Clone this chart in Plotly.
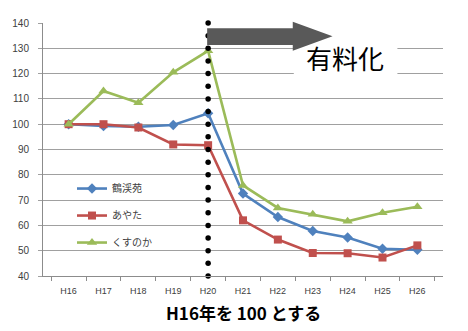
import numpy as np
import plotly.graph_objects as go

# 年度 (H16 = 100 とした指数)
years = ["H16", "H17", "H18", "H19", "H20", "H21", "H22", "H23", "H24", "H25", "H26"]
kakeien = [100, 99.3, 99.0, 99.7, 104.3, 72.6, 63.3, 57.8, 55.2, 50.8, 50.4]
ayata = [100, 100, 98.7, 92.0, 91.7, 62.0, 54.4, 49.1, 49.0, 47.3, 52.1]
kusunoka = [100, 113.1, 108.5, 120.5, 129.0, 75.8, 66.9, 64.4, 61.6, 65.0, 67.4]

series_names = ["鶴渓苑", "あやた", "くすのか"]
pay_year = "H20"          # 有料化の年度
y_min, y_max, y_step = 40, 140, 10

BLUE, RED, GREEN = "#4F81BD", "#C0504D", "#9BBB59"
TICK_FONT = "Liberation Sans, Arial, sans-serif"
JP_FONT = "Noto Sans CJK JP, sans-serif"

fig = go.Figure()

styles = [
    (kakeien, BLUE, "diamond", 8),
    (ayata, RED, "square", 8),
    (kusunoka, GREEN, "triangle-up", 9),
]
for name, (vals, color, symbol, msize) in zip(series_names, styles):
    fig.add_trace(go.Scatter(
        x=years, y=vals, name=name, legendgroup=name,
        mode="lines+markers",
        line=dict(color=color, width=2.6),
        marker=dict(symbol=symbol, size=msize, color=color),
        cliponaxis=False,
    ))

# 有料化の区切り（点線）
dot_y = np.arange(y_min, y_max + 1, 5)
fig.add_trace(go.Scatter(
    x=[pay_year] * len(dot_y), y=dot_y, mode="markers",
    marker=dict(size=5.5, color="black"),
    showlegend=False, hoverinfo="skip", cliponaxis=False,
))

# ラベル背景（白）→ 矢印の順に重ねる
fig.add_shape(
    type="rect", xref="paper", yref="paper",
    x0=0.627, x1=0.886, y0=0.794, y1=0.913,
    fillcolor="white", line=dict(width=0), layer="above",
)
fig.add_shape(
    type="path", xref="paper", yref="paper",
    path="M 0.4104 0.979 L 0.6244 0.979 L 0.6244 1.005 L 0.7239 0.948 "
         "L 0.6244 0.8905 L 0.6244 0.913 L 0.4104 0.913 Z",
    fillcolor="#595959", line=dict(width=0), layer="above",
)

fig.add_annotation(
    text="有料化", xref="paper", yref="paper", x=0.756, y=0.862,
    xanchor="center", yanchor="middle",
    showarrow=False, font=dict(family=JP_FONT, size=26, color="black"),
)

fig.add_annotation(
    text="<b>H16年を 100 とする</b>", xref="paper", yref="paper",
    x=0.5025, y=-0.146, xanchor="center", yanchor="middle", showarrow=False,
    font=dict(family=JP_FONT, size=17, color="black"),
)

fig.update_xaxes(
    type="category", categoryorder="array", categoryarray=years,
    showgrid=False, showline=True, linecolor="#8c8c8c", linewidth=1,
    ticks="outside", ticklen=4, tickcolor="#8c8c8c", tickson="boundaries",
    tickfont=dict(family=TICK_FONT, size=9, color="#404040"),
    ticklabelstandoff=6,
    fixedrange=True,
)
fig.update_yaxes(
    range=[y_min, y_max], dtick=y_step, tick0=y_min,
    showgrid=True, gridcolor="#a0a0a0", gridwidth=1,
    showline=True, linecolor="#8c8c8c", linewidth=1,
    ticks="outside", ticklen=4, tickcolor="#a0a0a0",
    tickfont=dict(family=TICK_FONT, size=10, color="#404040"),
    ticklabelstandoff=7,
    zeroline=False, fixedrange=True,
)

fig.update_layout(
    width=468, height=331,
    margin=dict(l=41, r=25, t=23, b=55),
    paper_bgcolor="white", plot_bgcolor="white",
    showlegend=True,
    legend=dict(
        x=0.0725, y=0.403, xanchor="left", yanchor="top",
        bgcolor="rgba(0,0,0,0)", tracegroupgap=8,
        font=dict(family=JP_FONT, size=10, color="#404040"),
    ),
)

fig.write_html("out.html")
